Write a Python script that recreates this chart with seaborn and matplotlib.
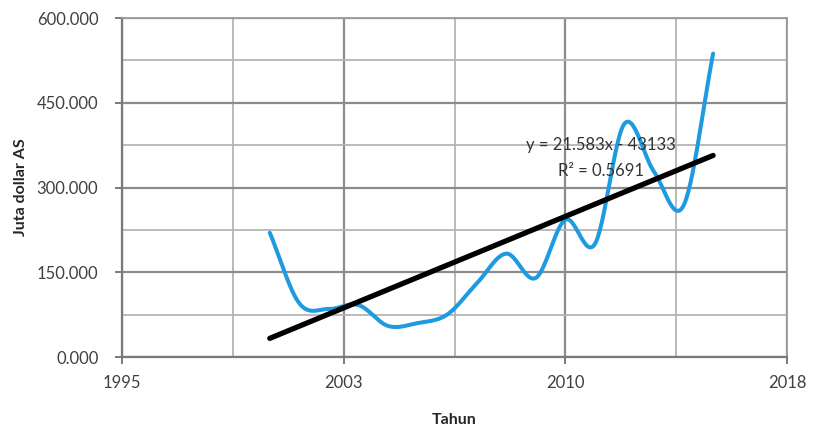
import numpy as np
import pandas as pd
import matplotlib
matplotlib.use("Agg")
import matplotlib.pyplot as plt
from matplotlib.ticker import MultipleLocator, FormatStrFormatter, FixedLocator
import seaborn as sns

# data
years = [2000, 2001, 2002, 2003, 2004, 2005, 2006, 2007,
         2008, 2009, 2010, 2011, 2012, 2013, 2014, 2015]
values = [220, 95, 85, 92, 55, 60, 75, 130,
          183, 140, 243, 200, 413, 328, 268, 537]

trend_slope = 21.583
trend_intercept = -43133
r_squared = 0.5691

x_ticks = [1995, 2002.5, 2010, 2017.5]
x_tick_labels = ["1995", "2003", "2010", "2018"]


def catmull_rom(x, y, n=30):
    """Excel-like smoothed line through the points"""
    x = np.asarray(x, float)
    y = np.asarray(y, float)
    px = np.concatenate([[2 * x[0] - x[1]], x, [2 * x[-1] - x[-2]]])
    py = np.concatenate([[2 * y[0] - y[1]], y, [2 * y[-1] - y[-2]]])
    xs, ys = [], []
    t = np.linspace(0, 1, n, endpoint=False)
    for i in range(1, len(px) - 2):
        for p, out in ((px, xs), (py, ys)):
            p0, p1, p2, p3 = p[i - 1], p[i], p[i + 1], p[i + 2]
            out.extend(0.5 * ((2 * p1) + (-p0 + p2) * t
                              + (2 * p0 - 5 * p1 + 4 * p2 - p3) * t ** 2
                              + (-p0 + 3 * p1 - 3 * p2 + p3) * t ** 3))
    xs.append(x[-1])
    ys.append(y[-1])
    return np.array(xs), np.array(ys)


sns.set_style("white")
plt.rcParams['font.family'] = ['Lato', 'DejaVu Sans']

fig = plt.figure(figsize=(8.13, 4.33), dpi=100)
ax = fig.add_axes([122 / 813, 1 - 357 / 433, 665 / 813, 339 / 433])

sx, sy = catmull_rom(years, values)
smooth_df = pd.DataFrame({'Tahun': sx, 'Nilai': sy})
sns.lineplot(data=smooth_df, x='Tahun', y='Nilai', ax=ax, color='#1E9BE0',
             linewidth=2.9, sort=False, zorder=3)

trend_x = np.array([years[0], years[-1]], float)
trend_df = pd.DataFrame({'Tahun': trend_x,
                         'Nilai': trend_slope * trend_x + trend_intercept})
sns.lineplot(data=trend_df, x='Tahun', y='Nilai', ax=ax, color='black',
             linewidth=3.8, zorder=4)

ax.set_xlim(1995, 2017.5)
ax.set_ylim(0, 600)
ax.xaxis.set_major_locator(FixedLocator(x_ticks))
ax.set_xticklabels(x_tick_labels)
ax.xaxis.set_minor_locator(MultipleLocator(3.75))
ax.yaxis.set_major_locator(MultipleLocator(150))
ax.yaxis.set_minor_locator(MultipleLocator(75))
ax.yaxis.set_major_formatter(FormatStrFormatter('%.3f'))

ax.grid(which='major', color='#8c8c8c', linewidth=1.6)
ax.grid(which='minor', color='#b4b4b4', linewidth=1.3)
ax.set_axisbelow(True)

for side in ['top', 'right']:
    ax.spines[side].set_color('#9a9a9a')
    ax.spines[side].set_linewidth(1.3)
for side in ['left', 'bottom']:
    ax.spines[side].set_color('#7a7a7a')
    ax.spines[side].set_linewidth(1.6)

ax.tick_params(which='major', direction='out', length=5, width=1.4,
               color='#7a7a7a', labelsize=12, labelcolor='#404040',
               left=True, bottom=True)
ax.tick_params(axis='x', pad=8)
ax.tick_params(axis='y', pad=12)
ax.tick_params(which='minor', length=0)

ax.set_xlabel('Tahun', fontsize=11.5, fontweight='bold', labelpad=16)
ax.set_ylabel('Juta dollar AS', fontsize=11.5, fontweight='bold', labelpad=6)

ax.text(2011.2, 376, f'y = {trend_slope}x - {abs(trend_intercept)}',
        ha='center', va='center', fontsize=12, color='#333333', zorder=5)
ax.text(2011.2, 330, f'R² = {r_squared}',
        ha='center', va='center', fontsize=12, color='#333333', zorder=5)

plt.savefig('out.png', dpi=100)
plt.close()
